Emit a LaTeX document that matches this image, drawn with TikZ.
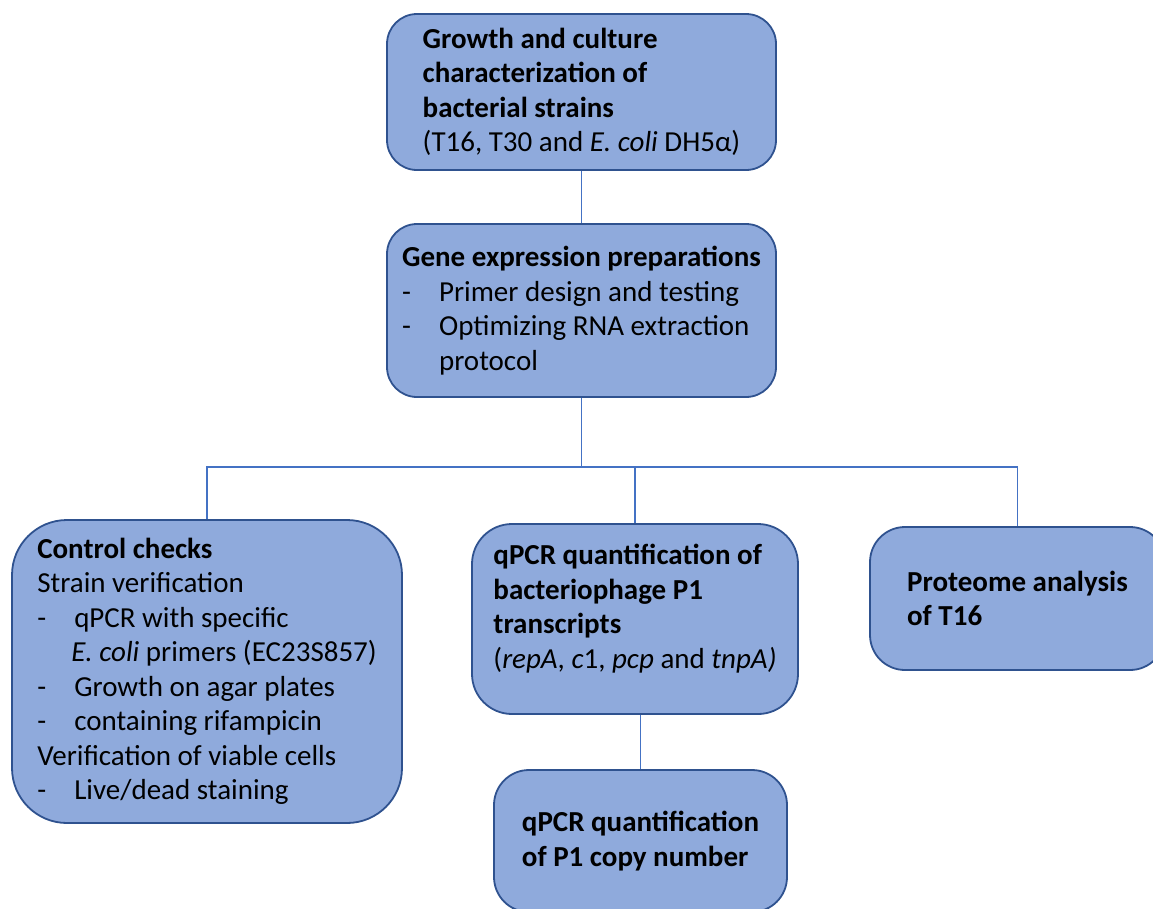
\documentclass[tikz,border=0pt]{standalone}
\usepackage{fontspec}
\setmainfont{Carlito}
\definecolor{boxfill}{HTML}{8FAADC}
\definecolor{boxline}{HTML}{2F528F}
\definecolor{linkline}{HTML}{4472C4}
\tikzset{
  stepbox/.style={draw=boxline, fill=boxfill, line width=1.8pt, rounded corners=30pt, align=left, inner sep=0pt},
  conn/.style={draw=linkline, line width=1.2pt},
}
\newcommand{\itm}{\makebox[37pt][l]{-}}

\begin{document}
\begin{tikzpicture}[x=1pt,y=-1pt,every node/.style={font=\fontsize{29}{34.5}\selectfont}]
\useasboundingbox (0,0) rectangle (1153,908);
\clip (0,0) rectangle (1153,908);
% boxes
\node[stepbox, minimum width=389pt, minimum height=156pt] (growth) at (581.5,92)
  {\textbf{Growth and culture}\\ \textbf{characterization of}\\ \textbf{bacterial strains}\\ (T16, T30 and \textit{E. coli} DH5α)};
\node[stepbox, minimum width=389pt, minimum height=173pt] (prep) at (581.5,310.5)
  {\textbf{Gene expression preparations}\\ \itm Primer design and testing\\ \itm Optimizing RNA extraction\\ \hspace{37pt}protocol};
\node[stepbox, rounded corners=55pt, minimum width=390pt, minimum height=303pt] (control) at (207,671.5)
  {\textbf{Control checks}\\ Strain verification\\ \itm qPCR with specific\\ \hspace{34pt}\textit{E. coli} primers (EC23S857)\\ \itm Growth on agar plates\\ \itm containing rifampicin\\ Verification of viable cells\\ \itm Live/dead staining};
\node[stepbox, rounded corners=40pt, minimum width=326pt, minimum height=190pt, text depth=25pt] (transcr) at (635,619)
  {\textbf{qPCR quantification of}\\ \textbf{bacteriophage P1}\\ \textbf{transcripts}\\ (\textit{repA}, \textit{c}1, \textit{pcp} and \textit{tnpA)}};
\node[stepbox, rounded corners=35pt, minimum width=295pt, minimum height=143pt] (proteome) at (1017.5,598.5)
  {\textbf{Proteome analysis}\\ \textbf{of T16}};
\node[stepbox, rounded corners=35pt, minimum width=293pt, minimum height=142pt] (copies) at (640.5,841)
  {\textbf{qPCR quantification}\\ \textbf{of P1 copy number}};
% connectors
\coordinate (bus) at (582,467);
\draw[conn] (growth.south) -- (prep.north);
\draw[conn] (prep.south) -- (prep.south |- bus);
\draw[conn] (control.north) |- (proteome.north |- bus) -- (proteome.north);
\draw[conn] (transcr.north) -- (transcr.north |- bus);
\draw[conn] (copies.north) -- (copies.north |- transcr.south);
\end{tikzpicture}
\end{document}
